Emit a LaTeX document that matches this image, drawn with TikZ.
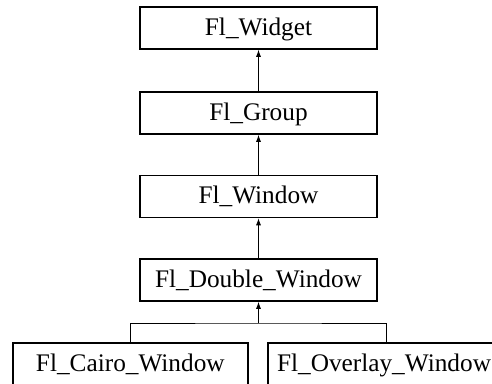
\documentclass[tikz,border=0pt]{standalone}
\usepackage{fontspec}
\setmainfont{Liberation Serif}
\usetikzlibrary{arrows.meta}
\begin{document}
\begin{tikzpicture}[x=1pt,y=-1pt,
  cls/.style={draw, line width=1.6pt, minimum height=42pt, inner sep=0pt,
    text height=18pt, text depth=4pt, font=\fontsize{25.3}{29}\selectfont},
  link/.style={line width=0.8pt},
  inh/.style={link, -{Latex[length=7pt,width=5pt]}}]
\useasboundingbox (0,0) rectangle (492,383);
\node[cls, minimum width=237pt] (widget) at (258.5,28) {Fl\_Widget};
\node[cls, minimum width=237pt] (group) at (258.5,113) {Fl\_Group};
\node[cls, minimum width=237pt] (window) at (258.5,196.5) {Fl\_Window};
\node[cls, minimum width=237pt] (double) at (258.5,280) {Fl\_Double\_Window};
\node[cls, minimum width=235pt] (cairo) at (130.3,364) {Fl\_Cairo\_Window};
\node[cls, minimum width=232pt] (overlay) at (384,364) {Fl\_Overlay\_Window};
\coordinate (j) at (258.5,323);
\draw[inh] (group.north) -- (widget.south);
\draw[inh] (window.north) -- (group.south);
\draw[inh] (double.north) -- (window.south);
\draw[inh] (j) -- (double.south);
\draw[link] (cairo.north) |- (j) -| ([xshift=2pt]overlay.north);
\end{tikzpicture}
\end{document}
